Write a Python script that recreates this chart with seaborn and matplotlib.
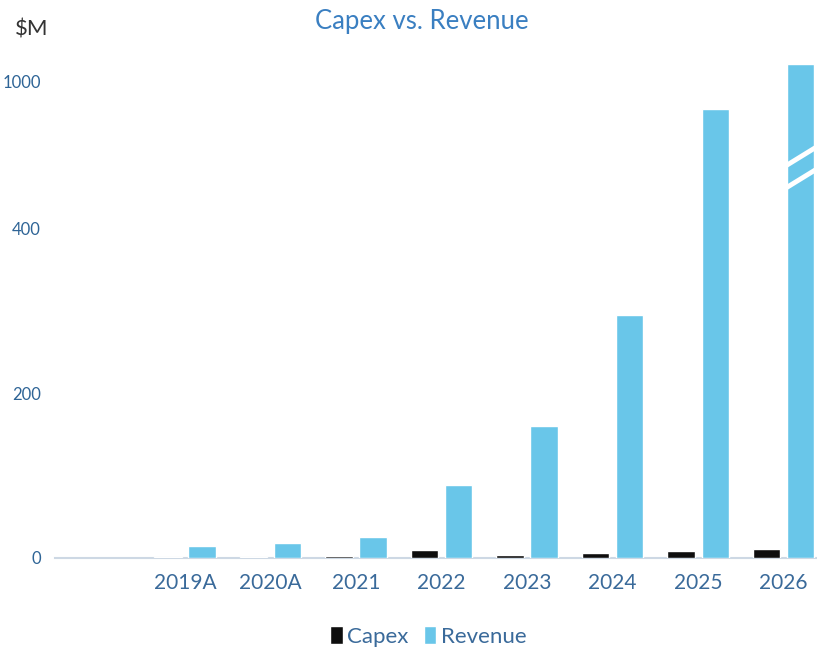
import pandas as pd
import matplotlib.pyplot as plt
import seaborn as sns

# Values ($M); the 2026 revenue bar is drawn on a broken axis
years = ['2019A', '2020A', '2021', '2022', '2023', '2024', '2025', '2026']
capex = [0.6, 1.5, 3, 9.5, 4, 5.5, 8, 11.5]
revenue = [15, 18, 25, 89, 160, 295, 545, 600]

# y tick positions and the labels printed on them (axis is broken above 400)
ytick_pos = [0, 200, 400, 579]
ytick_labels = ['0', '200', '400', '1000']

df = pd.DataFrame({
    'Year': years * 2,
    'Series': ['Capex'] * len(years) + ['Revenue'] * len(years),
    'Value': capex + revenue,
})

sns.set_style('white')
plt.rcParams['font.family'] = ['Lato', 'DejaVu Sans']

fig = plt.figure(figsize=(8.17, 6.52), dpi=100)
ax = fig.add_axes([0.0673, 0.1442, 0.9327, 0.7715])

palette = {'Capex': '#0E0E0E', 'Revenue': '#69C6E9'}
sns.barplot(data=df, x='Year', y='Value', hue='Series', order=[''] + years,
            palette=palette, saturation=1, width=0.8, gap=0.2, ax=ax, zorder=3)

ax.set_xlim(-0.52, 8.39)
ax.set_ylim(0, 611)
ax.set_yticks(ytick_pos)
ax.set_yticklabels(ytick_labels)
ax.set_xlabel('')
ax.set_ylabel('')
ax.tick_params(axis='y', length=0, pad=10, labelsize=12, labelcolor='#2E6496')
ax.tick_params(axis='x', length=0, pad=11, labelsize=15, labelcolor='#3A6A9A')

for side in ['top', 'right', 'left']:
    ax.spines[side].set_visible(False)
ax.spines['bottom'].set_color('#CDD8E4')
ax.spines['bottom'].set_linewidth(1.5)
ax.spines['bottom'].set_zorder(1)

# break marks on the 2026 revenue bar
bar = max(ax.patches, key=lambda p: p.get_height() if p.get_height() == p.get_height() else 0)
x0 = bar.get_x() - 0.02
x1 = bar.get_x() + bar.get_width() + 0.02
for y0 in [476, 449]:
    ax.plot([x0, x1], [y0, y0 + 23], color='white', lw=3.5, solid_capstyle='butt', zorder=5)

ax.set_title('Capex vs. Revenue', fontsize=18.5, color='#3A7FC1', x=0.482, y=1.035)
fig.text(0.018, 0.955, '$M', fontsize=16, color='#333333', va='center')

handles, labels = ax.get_legend_handles_labels()
ax.legend(handles, labels, loc='upper center', bbox_to_anchor=(0.49, -0.095), ncol=2,
          frameon=False, fontsize=16, handlelength=0.55, handleheight=0.9,
          handletextpad=0.2, columnspacing=0.7, labelcolor='#3A6A9A')

plt.savefig('out.png', dpi=100)
